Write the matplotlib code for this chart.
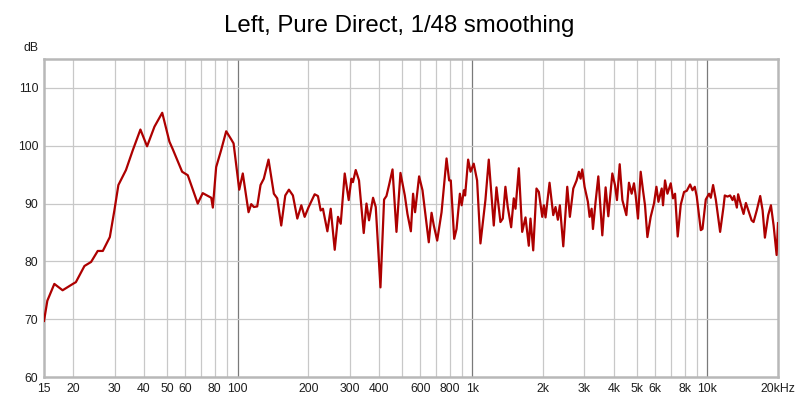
import numpy as np
import matplotlib
matplotlib.use('Agg')
import matplotlib.pyplot as plt

freq_hz = [
    15.0, 15.5, 16.6, 18.0, 19.9, 20.5, 22.3, 23.8, 25.4, 26.7,
    28.6, 29.9, 31.1, 33.5, 35.8, 38.6, 41.2, 44.3, 47.8, 51.3,
    53.0, 58.1, 61.4, 67.7, 71.1, 77.3, 78.5, 81.1, 85.1, 89.5,
    94.0, 96.2, 101.7, 105.3, 111.4, 114.4, 117.4, 121.3, 125.3, 129.4,
    135.5, 142.8, 147.6, 153.5, 159.7, 165.5, 172.1, 179.7, 186.9, 193.1,
    200.8, 213, 220, 225.9, 231, 241.3, 249.3, 259.3, 267.8, 275,
    286, 297.4, 305.4, 310, 318.6, 329, 344.6, 354, 363, 377.6,
    387.7, 406, 420.7, 430.6, 441.7, 457, 475, 494, 515.5, 529,
    547, 559, 570, 593, 613, 652, 670, 685, 708, 739,
    776, 796, 809, 836.5, 856, 884.5, 900, 920, 931, 959,
    982, 1013, 1047, 1082, 1136, 1174, 1233, 1266, 1316, 1347,
    1382, 1414, 1462, 1500, 1526, 1576, 1629, 1683, 1738, 1767,
    1815, 1874, 1918, 1983, 2014, 2048, 2130, 2209, 2259, 2311,
    2357, 2437, 2534, 2600, 2688, 2777, 2840, 2888, 2936, 3003,
    3102, 3155, 3218, 3260, 3345, 3436, 3573, 3691, 3790, 3942,
    4045, 4125, 4237, 4350, 4523, 4640, 4764, 4873, 4955, 5069,
    5205, 5324, 5430, 5559, 5741, 5930, 6074, 6194, 6397, 6479,
    6607, 6766, 6988, 7145, 7290, 7482, 7709, 7962, 8177, 8449,
    8650, 8845, 9020, 9382, 9539, 9853, 10180, 10350, 10585, 10870,
    11340, 11720, 11870, 12190, 12510, 12810, 13010, 13360, 13530, 13990,
    14270, 14600, 14930, 15440, 15740, 16260, 16800, 17200, 17590, 18170,
    18660, 19160, 19730, 20000,
]
level_db = [
    69.7, 73.2, 76.1, 75.0, 76.1, 76.4, 79.2, 79.9, 81.8, 81.8,
    84.2, 88.8, 93.2, 95.8, 99.2, 102.8, 99.9, 103.3, 105.7, 100.7,
    99.4, 95.5, 94.9, 90.0, 91.8, 91.0, 89.3, 96.3, 99.2, 102.5,
    101.1, 100.4, 92.4, 95.2, 88.5, 89.9, 89.4, 89.5, 93.2, 94.3,
    97.6, 91.7, 90.9, 86.2, 91.4, 92.4, 91.4, 87.4, 89.7, 87.7,
    89.4, 91.6, 91.3, 88.8, 89.1, 85.2, 89.1, 82.0, 87.7, 86.5,
    95.2, 90.6, 94.3, 93.7, 95.8, 94.0, 84.9, 90.0, 87.1, 91.0,
    89.4, 75.5, 90.7, 91.3, 93.2, 95.9, 85.1, 95.3, 91.4, 88.2,
    85.2, 91.7, 88.5, 94.7, 92.3, 83.3, 88.4, 86.2, 83.6, 88.5,
    97.8, 94.0, 94.0, 83.9, 85.6, 91.7, 89.7, 92.3, 91.4, 97.6,
    95.5, 96.9, 94.0, 83.1, 90.6, 97.6, 86.2, 92.8, 86.8, 87.4,
    92.9, 89.4, 85.9, 90.9, 89.1, 96.1, 85.1, 87.6, 82.7, 87.4,
    81.9, 92.6, 92.0, 87.7, 89.7, 87.6, 93.6, 88.0, 89.4, 87.2,
    89.7, 82.6, 92.9, 87.7, 92.6, 94.0, 95.5, 94.3, 95.9, 92.9,
    90.3, 87.7, 89.1, 85.6, 90.3, 94.7, 84.5, 92.8, 87.8, 95.2,
    93.2, 90.6, 96.8, 90.6, 88.0, 93.6, 91.7, 93.5, 91.4, 87.4,
    95.5, 92.3, 89.7, 84.2, 87.7, 90.0, 92.9, 90.3, 92.6, 89.7,
    94.0, 91.7, 93.5, 90.9, 91.7, 84.3, 89.8, 92.0, 92.2, 93.3,
    92.3, 92.9, 91.2, 85.4, 85.6, 90.7, 91.7, 91.0, 93.2, 90.7,
    85.1, 89.4, 91.4, 91.2, 91.4, 90.6, 91.3, 89.3, 91.6, 89.4,
    88.2, 90.1, 88.9, 87.1, 86.8, 88.9, 91.3, 88.8, 84.1, 88.0,
    89.7, 86.2, 81.1, 86.6,
]

x_ticks = [15, 20, 30, 40, 50, 60, 80, 100, 200, 300, 400, 600, 800,
           1000, 2000, 3000, 4000, 5000, 6000, 8000, 10000, 20000]
x_labels = ['15', '20', '30', '40', '50', '60', '80', '100', '200', '300',
            '400', '600', '800', '1k', '2k', '3k', '4k', '5k', '6k', '8k',
            '10k', '20kHz']
y_ticks = [60, 70, 80, 90, 100, 110]

minor_grid = [20, 30, 40, 50, 60, 70, 80, 90,
              200, 300, 400, 500, 600, 700, 800, 900,
              2000, 3000, 4000, 5000, 6000, 7000, 8000, 9000]
decade_grid = [100, 1000, 10000]

plt.rcParams['font.family'] = ['Liberation Sans', 'DejaVu Sans']

fig = plt.figure(figsize=(8, 3.98), dpi=100)
ax = fig.add_axes([44 / 800, 1 - 377 / 398, 734 / 800, 318 / 398])

for f in minor_grid:
    ax.axvline(f, color='#c8c8c8', lw=0.9, zorder=1)
for f in decade_grid:
    ax.axvline(f, color='#7a7a7a', lw=0.9, zorder=1)
for d in y_ticks[1:]:
    ax.axhline(d, color='#c8c8c8', lw=0.9, zorder=1)

ax.plot(freq_hz, level_db, color='#ad0000', lw=1.6, solid_joinstyle='round', zorder=3)

ax.set_xscale('log')
ax.set_xlim(15, 20000)
ax.set_ylim(60, 115)
ax.minorticks_off()
ax.set_xticks(x_ticks)
ax.set_xticklabels(x_labels)
ax.set_yticks(y_ticks)
ax.tick_params(length=0, labelsize=8.8, colors='#1e1e1e', pad=4)

for s in ax.spines.values():
    s.set_color('#b8b8b8')
    s.set_linewidth(1.8)

fig.text(399 / 800, 1 - 32 / 398, 'Left, Pure Direct, 1/48 smoothing',
         ha='center', va='baseline', fontsize=17.3)
fig.text(39 / 800, 1 - 48 / 398, 'dB', ha='right', va='center', fontsize=8.8, color='#1e1e1e')

fig.savefig('out.png', dpi=100, facecolor='white')
